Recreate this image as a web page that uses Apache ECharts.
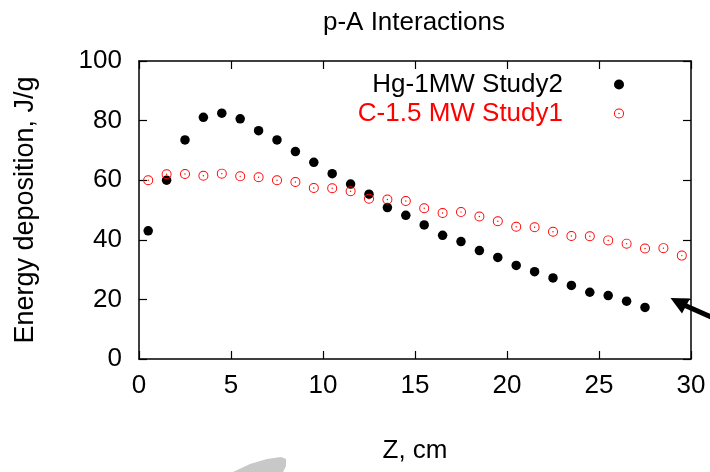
<!DOCTYPE html>
<html>
<head>
<meta charset="utf-8">
<script src="https://cdn.jsdelivr.net/npm/echarts@6/dist/echarts.min.js"></script>
<style>html,body{margin:0;padding:0;background:#fff;}#c{width:710px;height:472px;}</style>
</head>
<body>
<div id="c"></div>
<script>
// ---- data ----
const zHg = [0.5,1.5,2.5,3.5,4.5,5.5,6.5,7.5,8.5,9.5,10.5,11.5,12.5,13.5,14.5,15.5,16.5,17.5,18.5,19.5,20.5,21.5,22.5,23.5,24.5,25.5,26.5,27.5];
const hgValues = [43.0,60.0,73.5,81.1,82.5,80.6,76.6,73.5,69.6,66.0,62.2,58.7,55.3,50.8,48.2,45.0,41.5,39.4,36.4,34.1,31.4,29.3,27.2,24.7,22.4,21.3,19.4,17.3];
const zC = [0.5,1.5,2.5,3.5,4.5,5.5,6.5,7.5,8.5,9.5,10.5,11.5,12.5,13.5,14.5,15.5,16.5,17.5,18.5,19.5,20.5,21.5,22.5,23.5,24.5,25.5,26.5,27.5,28.5,29.5];
const cValues = [60.0,62.0,62.1,61.5,62.2,61.3,61.0,60.0,59.4,57.4,57.3,56.3,53.8,53.5,53.0,50.6,49.0,49.3,47.8,46.2,44.4,44.2,42.7,41.3,41.2,39.8,38.7,37.1,37.2,34.7];
const seriesNames = ['Hg-1MW Study2', 'C-1.5 MW Study1'];
const xTicks = [0,5,10,15,20,25,30];
const yTicks = [0,20,40,60,80,100];
const titleText = 'p-A Interactions';
const xTitle = 'Z, cm';
const yTitle = 'Energy deposition, J/g';

const FONT = 'Liberation Sans, Arial, sans-serif';
const ringDot = 'path://M0,10 A10,10 0 1,1 20,10 A10,10 0 1,1 0,10 Z M1.9,10 A8.1,8.1 0 1,0 18.1,10 A8.1,8.1 0 1,0 1.9,10 Z M8.6,10 A1.4,1.4 0 1,1 11.4,10 A1.4,1.4 0 1,1 8.6,10 Z';

const chart = echarts.init(document.getElementById('c'), null, {renderer:'canvas'});
const axisLineStyle = {color:'#000', width:1.5};
const tickStyle = {show:true, inside:true, length:8, lineStyle:{color:'#000', width:1.2}};

chart.setOption({
  animation:false,
  backgroundColor:'#fff',
  title:{text:titleText, left:414, textAlign:'center', top:10, padding:0,
    textStyle:{fontFamily:FONT, fontSize:26, fontWeight:'normal', color:'#000'}},
  legend:{
    orient:'vertical', align:'right', right:81, top:65, itemGap:0,
    itemWidth:10, itemHeight:10,
    textStyle:{fontFamily:FONT, fontSize:26, lineHeight:29, padding:[0,46,0,0]},
    data:[
      {name:seriesNames[0], textStyle:{color:'#000'}},
      {name:seriesNames[1], textStyle:{color:'#ff0000'}}
    ]
  },
  grid:{left:139, right:19, top:61, bottom:113, containLabel:false},
  xAxis:[
    {type:'value', min:xTicks[0], max:xTicks[xTicks.length-1], interval:5, position:'bottom',
     name:xTitle, nameLocation:'middle', nameGap:79,
     nameTextStyle:{fontFamily:FONT, fontSize:26, color:'#000'},
     axisLine:{show:true, onZero:false, lineStyle:axisLineStyle},
     axisTick:tickStyle, splitLine:{show:false},
     axisLabel:{fontFamily:FONT, fontSize:26, color:'#000', margin:14}},
    {type:'value', min:xTicks[0], max:xTicks[xTicks.length-1], interval:5, position:'top',
     axisLine:{show:true, onZero:false, lineStyle:axisLineStyle},
     axisTick:tickStyle, splitLine:{show:false}, axisLabel:{show:false}}
  ],
  yAxis:[
    {type:'value', min:yTicks[0], max:yTicks[yTicks.length-1], interval:20, position:'left',
     name:yTitle, nameLocation:'middle', nameGap:100, nameRotate:90,
     nameTextStyle:{fontFamily:FONT, fontSize:27, color:'#000'},
     axisLine:{show:true, onZero:false, lineStyle:axisLineStyle},
     axisTick:tickStyle, splitLine:{show:false},
     axisLabel:{fontFamily:FONT, fontSize:26, color:'#000', margin:17}},
    {type:'value', min:yTicks[0], max:yTicks[yTicks.length-1], interval:20, position:'right',
     axisLine:{show:true, onZero:false, lineStyle:axisLineStyle},
     axisTick:tickStyle, splitLine:{show:false}, axisLabel:{show:false}}
  ],
  series:[
    {name:seriesNames[0], type:'scatter', symbol:'circle', symbolSize:9.5,
     itemStyle:{color:'#000', opacity:1},
     data:zHg.map((z,i)=>[z,hgValues[i]])},
    {name:seriesNames[1], type:'scatter', symbol:ringDot, symbolSize:10,
     itemStyle:{color:'#ff0000', opacity:1},
     data:zC.map((z,i)=>[z,cValues[i]])}
  ],
  graphic:[
    {type:'line', shape:{x1:720, y1:321, x2:684, y2:305}, style:{stroke:'#000', lineWidth:5}},
    {type:'polygon', shape:{points:[[670.5,298],[690,298.5],[682,313.5]]}, style:{fill:'#000'}},
    {type:'polygon', shape:{points:[[233,472],[250,464],[267,459],[281,457],[286,459],[286,466],[283,472]]}, style:{fill:'#c8c8c8'}}
  ]
});
</script>
</body>
</html>
